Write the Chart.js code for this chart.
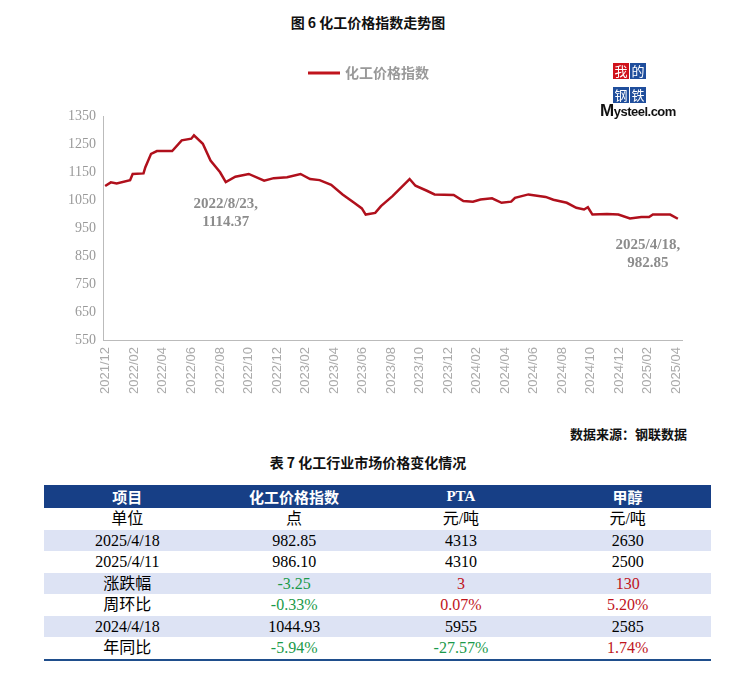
<!DOCTYPE html>
<html><head><meta charset="utf-8">
<script src="https://cdn.jsdelivr.net/npm/chart.js@4.4.1/dist/chart.umd.min.js"></script>
<style>
body{margin:0;background:#fff;width:736px;height:673px;position:relative;overflow:hidden;font-family:"Noto Sans CJK SC",serif}
.t{position:absolute;left:0;width:736px;text-align:center;font-weight:bold;font-size:14px;color:#111}
#wrap{position:absolute;left:0;top:0;width:736px;height:400px}
#logo{position:absolute;left:600px;top:57px;width:80px}
#logo span{display:inline-block;width:16px;height:16px;color:#fff;font-size:13px;line-height:16px;text-align:center;margin:0 1px 1px 0;font-family:"Noto Sans CJK SC"}
table{position:absolute;left:44px;top:485px;width:667px;table-layout:fixed;border-collapse:collapse;font-family:"Liberation Serif","Noto Sans CJK SC",serif;font-size:16px;border-bottom:2px solid #1f4e8c}
td,th{text-align:center;height:21.5px;padding:0;line-height:21px}
th{background:#173f86;color:#fff;font-family:"Noto Sans CJK SC";font-weight:bold;font-size:15px;height:23px}
tr.s td{background:#dde3f4}
.g{color:#1a9a4a}.r{color:#c0141c}
</style></head><body>
<div class="t" style="top:12px">图 6 化工价格指数走势图</div>
<div id="wrap"><canvas id="c" width="736" height="400"></canvas></div>
<div id="logo">
<span style="background:#d0121b;margin-left:13px">我</span><span style="background:#1f4e9c">的</span><br>
<span style="background:#1f4e9c;margin-left:13px">钢</span><span style="background:#1f4e9c">铁</span><br>
<div style="font:bold 13px 'Liberation Sans';color:#111;margin-top:-2px;letter-spacing:-0.5px"><span style="font-size:17px;display:inline;color:#111;width:auto;height:auto;background:none;margin:0;font-family:'Liberation Sans'">M</span>ysteel.com</div>
</div>
<div class="t" style="top:424px;left:auto;right:49px;width:auto;font-size:13px">数据来源：钢联数据</div>
<div class="t" style="top:452px">表 7 化工行业市场价格变化情况</div>
<table>
<tr><th>项目</th><th>化工价格指数</th><th style="font-family:'Liberation Serif'">PTA</th><th>甲醇</th></tr>
<tr><td>单位</td><td>点</td><td>元/吨</td><td>元/吨</td></tr>
<tr class="s"><td>2025/4/18</td><td>982.85</td><td>4313</td><td>2630</td></tr>
<tr><td>2025/4/11</td><td>986.10</td><td>4310</td><td>2500</td></tr>
<tr class="s"><td>涨跌幅</td><td class="g">-3.25</td><td class="r">3</td><td class="r">130</td></tr>
<tr><td>周环比</td><td class="g">-0.33%</td><td class="r">0.07%</td><td class="r">5.20%</td></tr>
<tr class="s"><td>2024/4/18</td><td>1044.93</td><td>5955</td><td>2585</td></tr>
<tr><td>年同比</td><td class="g">-5.94%</td><td class="g">-27.57%</td><td class="r">1.74%</td></tr>
</table>
<script>
// month index: 0 = 2021/12
var months = [-0.05,0.35,0.76,1.70,1.88,2.64,2.77,3.17,3.58,4.65,5.32,5.99,6.18,6.80,7.34,8.01,8.41,9.08,10.02,11.10,11.77,12.71,13.65,14.32,14.99,15.80,16.60,17.41,17.95,18.22,18.89,19.29,20.10,21.30,21.71,22.51,23.05,24.39,25.07,25.74,26.27,27.08,27.75,28.42,28.69,29.63,30.84,31.38,32.32,32.99,33.53,33.80,34.12,35.14,35.94,36.75,37.55,38.09,38.36,39.57,40.11];
var values = [1100,1113,1109,1121,1143,1145,1167,1215,1225,1225,1263,1269,1281,1251,1191,1149,1114,1133,1143,1119,1128,1131,1143,1125,1121,1104,1070,1040,1020,998,1004,1028,1064,1125,1101,1083,1070,1068,1046,1044,1052,1056,1040,1044,1058,1070,1061,1051,1040,1022,1016,1024,998,1000,998,984,989,989,998,998,983];
var tickLabels = ['2021/12','2022/02','2022/04','2022/06','2022/08','2022/10','2022/12','2023/02','2023/04','2023/06','2023/08','2023/10','2023/12','2024/02','2024/04','2024/06','2024/08','2024/10','2024/12','2025/02','2025/04'];
var notes = [{x:8.41, y:1114.37, text:['2022/8/23,','1114.37'], dx:0, dy:22}, {x:40.11, y:982.85, text:['2025/4/18,','982.85'], dx:-30, dy:26}];

var pts = months.map(function(m,i){return {x:m,y:values[i]};});
var extras = {
  id:'extras',
  afterDraw:function(chart){
    var ctx = chart.ctx, xs = chart.scales.x, ys = chart.scales.y;
    ctx.save();
    ctx.strokeStyle = '#c0141c'; ctx.lineWidth = 3;
    ctx.beginPath(); ctx.moveTo(308,73); ctx.lineTo(340,73); ctx.stroke();
    ctx.fillStyle = '#999'; ctx.font = 'bold 14px "Noto Sans CJK SC"'; ctx.textBaseline = 'middle';
    ctx.fillText('化工价格指数', 345, 73);
    ctx.font = 'bold 15px "Liberation Serif"'; ctx.fillStyle = '#8c8c8c'; ctx.textAlign = 'center';
    notes.forEach(function(n){
      var px = xs.getPixelForValue(n.x) + n.dx, py = ys.getPixelForValue(n.y) + n.dy;
      n.text.forEach(function(t,k){ ctx.fillText(t, px, py + k*18); });
    });
    ctx.restore();
  }
};
new Chart(document.getElementById('c'), {
  type:'line',
  data:{datasets:[{data:pts, borderColor:'#b0101c', borderWidth:2.5, pointRadius:0, tension:0}]},
  options:{
    responsive:false, animation:false,
    layout:{padding:{top:116, right:54, left:0, bottom:0}},
    plugins:{legend:{display:false}, tooltip:{enabled:false}},
    scales:{
      x:{type:'linear', min:-0.2, max:40.4,
        afterBuildTicks:function(s){ s.ticks = tickLabels.map(function(l,i){return {value:i*2};}); },
        afterFit:function(s){ s.height = 60; },
        grid:{display:false, drawTicks:true, tickLength:4, color:'#bbb'},
        border:{color:'#bbb'},
        ticks:{autoSkip:false, maxRotation:90, minRotation:90, color:'#aaa', font:{family:'Liberation Sans', size:13},
          callback:function(v){ return tickLabels[Math.round(v/2)]; }}},
      y:{min:550, max:1350,
        afterBuildTicks:function(s){ var t=[]; for(var v=550; v<=1350; v+=100) t.push({value:v}); s.ticks=t; },
        afterFit:function(s){ s.width = 103; },
        grid:{display:false, tickLength:4},
        border:{color:'#bbb'},
        ticks:{color:'#999', font:{family:'Liberation Serif', size:14}, callback:function(v){ return String(v); }}}
    }
  },
  plugins:[extras]
});
</script>
</body></html>
